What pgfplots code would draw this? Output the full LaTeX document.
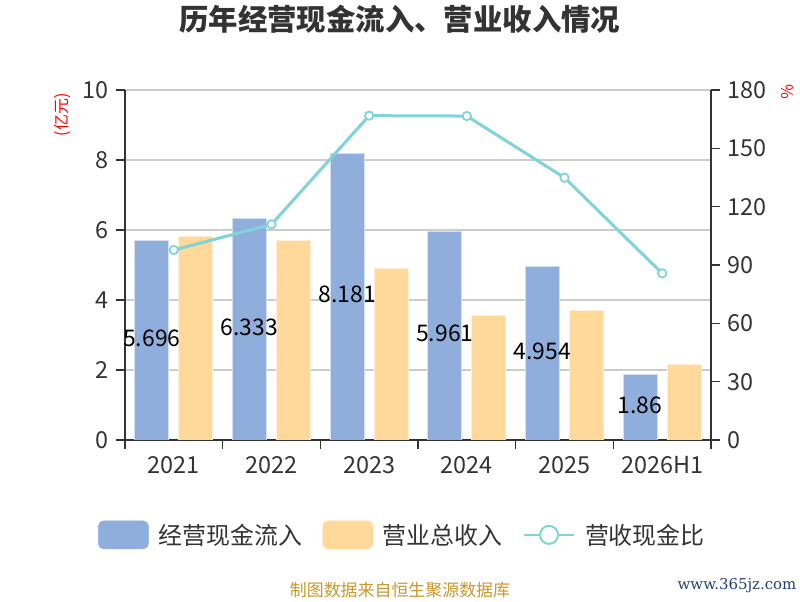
\documentclass[border=0pt]{standalone}
\usepackage{pgfplots}
\pgfplotsset{compat=1.18}
\usepackage{fontspec}
\setmainfont{Noto Sans CJK SC}
\newfontfamily\webfont{DejaVu Serif}
\definecolor{cblue}{HTML}{8FAEDB}
\definecolor{corange}{HTML}{FFD89A}
\definecolor{ccyan}{HTML}{80D3D6}
\definecolor{caxis}{HTML}{333333}
\definecolor{cgrid}{HTML}{CCCCCC}
\definecolor{cgold}{HTML}{C9962A}
\definecolor{cnavy}{HTML}{1F3F7A}
\pgfplotsset{
  base/.style={
    scale only axis, width=586bp, height=350bp,
    xmin=-0.5, xmax=5.5,
    /pgf/number format/assume math mode=true,
    tick align=outside, major tick length=9bp,
    every tick/.style={draw=caxis, line width=1.2bp},
    axis line style={draw=caxis, line width=1.5bp},
    tick label style={font=\fontsize{23.5}{26}\selectfont, text=caxis},
  }
}
\begin{document}
\begin{tikzpicture}
\begin{axis}[base,
  axis x line*=bottom, axis y line*=left,
  ymin=0, ymax=10, ytick={0,2,...,10},
  ymajorgrids, grid style={draw=cgrid, line width=1.2bp},
  xtick={-0.5,0.5,...,5.5},
  x tick label as interval=true,
  xticklabels={2021,2022,2023,2024,2025,2026H1},
  x tick label style={yshift=-4bp},
  y tick label style={xshift=-4bp},
  ylabel={(亿元)},
  ylabel style={at={(-0.106,0.929)}, anchor=center, font=\fontsize{16}{18}\selectfont, text=red},
  title={历年经营现金流入、营业收入情况},
  title style={at={(0.469,1.186)}, anchor=center, font=\bfseries\fontsize{29.5}{32}\selectfont, text=caxis},
  ybar, bar width=34bp,
]
\addplot[ybar, bar shift=-22bp, fill=cblue, draw=cblue!40!white, line width=0.8bp,
  visualization depends on={rawy \as \rawy},
  nodes near coords,
  nodes near coords style={/pgf/number format/fixed, /pgf/number format/precision=3, /pgf/number format/assume math mode=true},
  every node near coord/.append style={anchor=center, font=\fontsize{23}{26}\selectfont, text=black, yshift={-\rawy*17.5bp+2bp}},
] coordinates {(0,5.696) (1,6.333) (2,8.181) (3,5.961) (4,4.954) (5,1.86)};
\addplot[ybar, bar shift=22bp, fill=corange, draw=corange!40!white, line width=0.8bp]
  coordinates {(0,5.81) (1,5.71) (2,4.90) (3,3.57) (4,3.69) (5,2.17)};
\end{axis}
\begin{axis}[base,
  axis x line=none, axis y line*=right,
  ymin=0, ymax=180, ytick={0,30,...,180},
  y tick label style={xshift=4bp},
  ylabel={\%},
  ylabel style={at={(1.131,0.994)}, anchor=center, rotate=180, font=\fontsize{16}{18}\selectfont, text=red},
  legend columns=3,
  legend style={draw=none, fill=none, at={(-0.046,-0.271)}, anchor=west,
    font=\fontsize{24}{27}\selectfont, text=caxis, inner sep=0pt,
    /tikz/every odd column/.append style={column sep=10bp},
    /tikz/every even column/.append style={column sep=20.5bp},
    nodes={inner sep=0pt}},
]
\addlegendimage{legend image code/.code={\fill[cblue, rounded corners=5bp] (0bp,-14bp) rectangle (50bp,14bp);}}
\addlegendentry{经营现金流入}
\addlegendimage{legend image code/.code={\fill[corange, rounded corners=5bp] (0bp,-14bp) rectangle (50bp,14bp);}}
\addlegendentry{营业总收入}
\addplot[color=ccyan, line width=3bp, mark=*, mark size=4.2bp,
  mark options={fill=white, draw=ccyan, line width=1.8bp},
  legend image code/.code={\draw[ccyan, line width=2bp] (0bp,0bp)--(50bp,0bp); \draw[ccyan, fill=white, line width=2bp] (25bp,0bp) circle (9bp);}]
  coordinates {(0,97.7) (1,110.9) (2,166.8) (3,166.6) (4,134.9) (5,85.7)};
\addlegendentry{营收现金比}
\end{axis}
\node[text=cgold, font=\fontsize{17}{20}\selectfont] at (275bp,-150bp) {制图数据来自恒生聚源数据库};
\node[text=cnavy, font=\webfont\fontsize{15}{18}\selectfont] at (612bp,-146bp) {www.365jz.com};
\path[use as bounding box] (-125bp,-160bp) rectangle (675bp,440bp);
\end{tikzpicture}
\end{document}
